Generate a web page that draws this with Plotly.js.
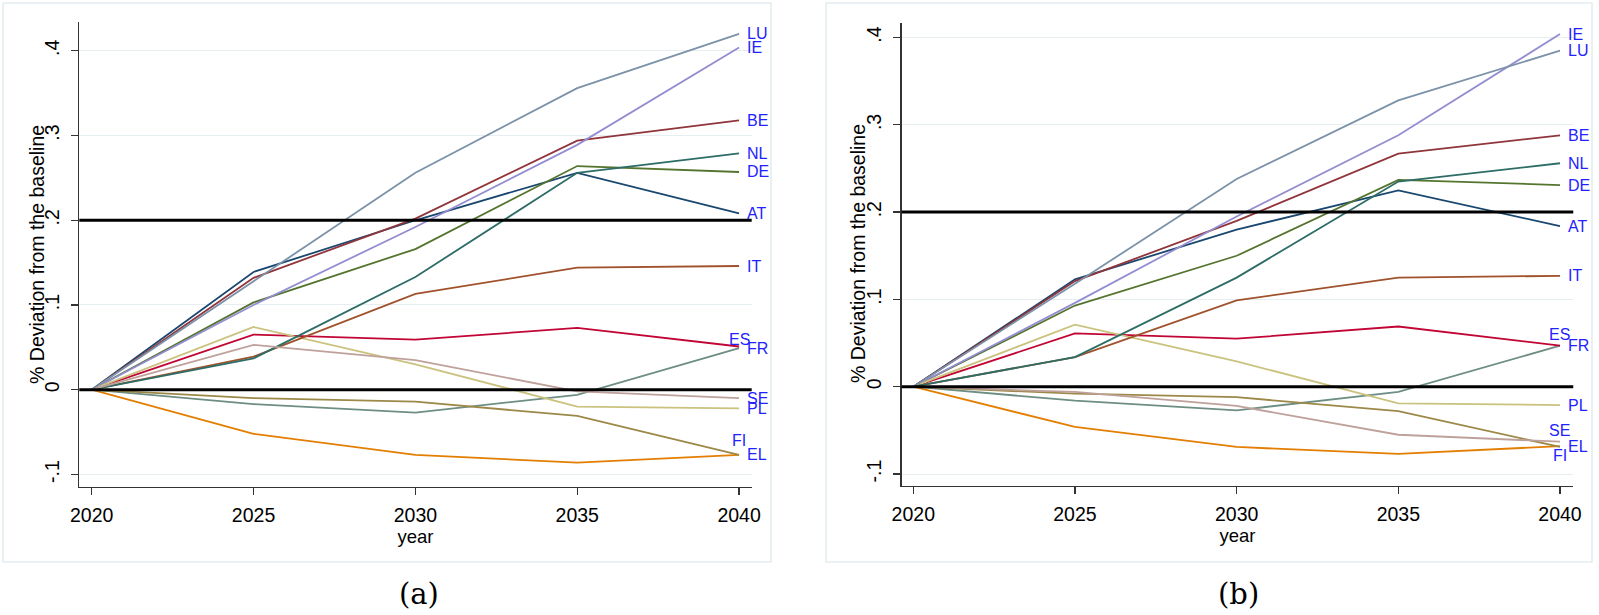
<!DOCTYPE html>
<html>
<head>
<meta charset="utf-8">
<script src="https://cdn.plot.ly/plotly-3.0.1.min.js"></script>
<style>
  html, body { margin: 0; padding: 0; background: #fff; }
  #plot { width: 1599px; height: 615px; }
</style>
</head>
<body>
<div id="plot"></div>
<script>
// years on the x axis
var years = [2020, 2025, 2030, 2035, 2040];
var countries = ["AT", "BE", "DE", "EL", "FR", "ES", "IE", "PL", "IT", "LU", "NL", "FI", "SE"];

// panel (a): % deviation from the baseline
var AT_a = [0, 0.139, 0.200, 0.256, 0.208];
var BE_a = [0, 0.132, 0.202, 0.294, 0.318];
var DE_a = [0, 0.103, 0.166, 0.264, 0.257];
var EL_a = [0, -0.052, -0.077, -0.086, -0.077];
var FR_a = [0, -0.017, -0.027, -0.006, 0.049];
var ES_a = [0, 0.065, 0.059, 0.073, 0.051];
var IE_a = [0, 0.100, 0.192, 0.289, 0.404];
var PL_a = [0, 0.074, 0.030, -0.020, -0.022];
var IT_a = [0, 0.039, 0.113, 0.144, 0.146];
var LU_a = [0, 0.128, 0.256, 0.356, 0.420];
var NL_a = [0, 0.037, 0.133, 0.256, 0.279];
var FI_a = [0, -0.010, -0.014, -0.031, -0.077];
var SE_a = [0, 0.053, 0.035, -0.002, -0.010];

// panel (b)
var AT_b = [0, 0.123, 0.180, 0.225, 0.184];
var BE_b = [0, 0.121, 0.190, 0.267, 0.288];
var DE_b = [0, 0.093, 0.150, 0.237, 0.231];
var EL_b = [0, -0.046, -0.069, -0.077, -0.068];
var FR_b = [0, -0.016, -0.027, -0.006, 0.047];
var ES_b = [0, 0.061, 0.055, 0.069, 0.047];
var IE_b = [0, 0.096, 0.195, 0.288, 0.404];
var PL_b = [0, 0.071, 0.029, -0.019, -0.021];
var IT_b = [0, 0.034, 0.099, 0.125, 0.127];
var LU_b = [0, 0.118, 0.238, 0.328, 0.385];
var NL_b = [0, 0.034, 0.125, 0.235, 0.256];
var FI_b = [0, -0.008, -0.012, -0.028, -0.069];
var SE_b = [0, -0.006, -0.022, -0.055, -0.063];

// y ticks and reference lines
var yTickVals = [-0.1, 0, 0.1, 0.2, 0.3, 0.4];
var yTickText = ["-.1", "0", ".1", ".2", ".3", ".4"];
var refLines = [0, 0.2];

var seriesA = [AT_a, BE_a, DE_a, EL_a, FR_a, ES_a, IE_a, PL_a, IT_a, LU_a, NL_a, FI_a, SE_a];
var seriesB = [AT_b, BE_b, DE_b, EL_b, FR_b, ES_b, IE_b, PL_b, IT_b, LU_b, NL_b, FI_b, SE_b];

// stata s2color line colours, same order as countries
var colors = ["#1a476f", "#90353b", "#55752f", "#e37e00", "#6e8e84", "#c10534", "#938dd2",
              "#cac27e", "#a0522d", "#7b92a8", "#2d6d66", "#9c8847", "#bfa19c"];

// labels that sit above/below the end point instead of at 3 o'clock (pixel shift)
var labelAbove = {a: {ES: 7, FI: 14}, b: {ES: 11, SE: 11, FI: -9}};

var font = "Liberation Sans, Arial, sans-serif";
var data = [];
var annotations = [];

function addPanel(series, xa, ya, key) {
  series.forEach(function (vals, i) {
    data.push({
      x: years, y: vals, type: "scatter", mode: "lines",
      xaxis: xa, yaxis: ya, hoverinfo: "skip",
      line: {color: colors[i], width: 1.8}
    });
    var c = countries[i];
    var last = vals[vals.length - 1];
    var shift = labelAbove[key][c];
    var ann = {
      x: years[years.length - 1], y: last, xref: xa, yref: ya,
      text: c, showarrow: false,
      font: {family: font, size: 16, color: "#2222ff"}
    };
    if (shift !== undefined) {
      ann.xanchor = "center"; ann.yanchor = "middle"; ann.yshift = shift;
    } else {
      ann.xanchor = "left"; ann.yanchor = "middle"; ann.xshift = 6;
    }
    annotations.push(ann);
  });
}
addPanel(seriesA, "x", "y", "a");
addPanel(seriesB, "x2", "y2", "b");

// y titles and captions
var yTitle = "% Deviation from the baseline";
[0.0231, 0.5366].forEach(function (xp) {
  annotations.push({xref: "paper", yref: "paper", x: xp, y: 0.587, xanchor: "center", yanchor: "middle",
    text: yTitle, textangle: -90, showarrow: false,
    font: {family: font, size: 19.5, color: "#000"}});
});
annotations.push({xref: "paper", yref: "paper", x: 0.262, y: 0.034, xanchor: "center", yanchor: "middle",
  text: "(a)", showarrow: false, font: {family: "DejaVu Serif, serif", size: 29, color: "#000"}});
annotations.push({xref: "paper", yref: "paper", x: 0.7745, y: 0.034, xanchor: "center", yanchor: "middle",
  text: "(b)", showarrow: false, font: {family: "DejaVu Serif, serif", size: 29, color: "#000"}});

var shapes = [
  {type: "rect", xref: "paper", yref: "paper", x0: 0.0019, x1: 0.4822, y0: 0.0862, y1: 0.9951,
   line: {color: "#e3ecef", width: 1.5}, layer: "below"},
  {type: "rect", xref: "paper", yref: "paper", x0: 0.5166, x1: 0.9956, y0: 0.0862, y1: 0.9951,
   line: {color: "#e3ecef", width: 1.5}, layer: "below"}
];
[["x", "y"], ["x2", "y2"]].forEach(function (p) {
  refLines.forEach(function (v) {
    shapes.push({type: "line", xref: p[0] + " domain", yref: p[1], x0: 0, x1: 1, y0: v, y1: v,
      line: {color: "#000", width: 3}, layer: "above"});
  });
});

function xAxis(domain, range, anchor) {
  return {
    domain: domain, range: range, anchor: anchor,
    tickvals: years, ticktext: years.map(String),
    ticks: "outside", ticklen: 7, tickcolor: "#333", tickwidth: 1.3,
    showline: true, linecolor: "#333", linewidth: 1.5,
    showgrid: false, zeroline: false,
    tickfont: {family: font, size: 19.5, color: "#000"},
    ticklabelstandoff: 3,
    title: {text: "year", font: {family: font, size: 18.5, color: "#000"}, standoff: 0}
  };
}
function yAxis(domain, range, anchor) {
  return {
    domain: domain, range: range, anchor: anchor,
    tickvals: yTickVals, ticktext: yTickText, tickangle: -90,
    ticks: "outside", ticklen: 7, tickcolor: "#333", tickwidth: 1.3,
    showline: true, linecolor: "#333", linewidth: 1.5,
    showgrid: true, gridcolor: "#e6eef1", gridwidth: 1, zeroline: false,
    tickfont: {family: font, size: 19.5, color: "#000"},
    ticklabelstandoff: 4
  };
}

var layout = {
  width: 1599, height: 615,
  margin: {l: 0, r: 0, t: 0, b: 0},
  paper_bgcolor: "#fff", plot_bgcolor: "#fff",
  showlegend: false,
  xaxis: xAxis([0.0496, 0.4701], [2019.617, 2040.39], "y"),
  yaxis: yAxis([0.2086, 0.9642], [-0.1145, 0.434], "x"),
  xaxis2: xAxis([0.5639, 0.9839], [2019.641, 2040.41], "y2"),
  yaxis2: yAxis([0.2098, 0.9631], [-0.1137, 0.417], "x2"),
  shapes: shapes,
  annotations: annotations
};

Plotly.newPlot("plot", data, layout, {staticPlot: true});
</script>
</body>
</html>
